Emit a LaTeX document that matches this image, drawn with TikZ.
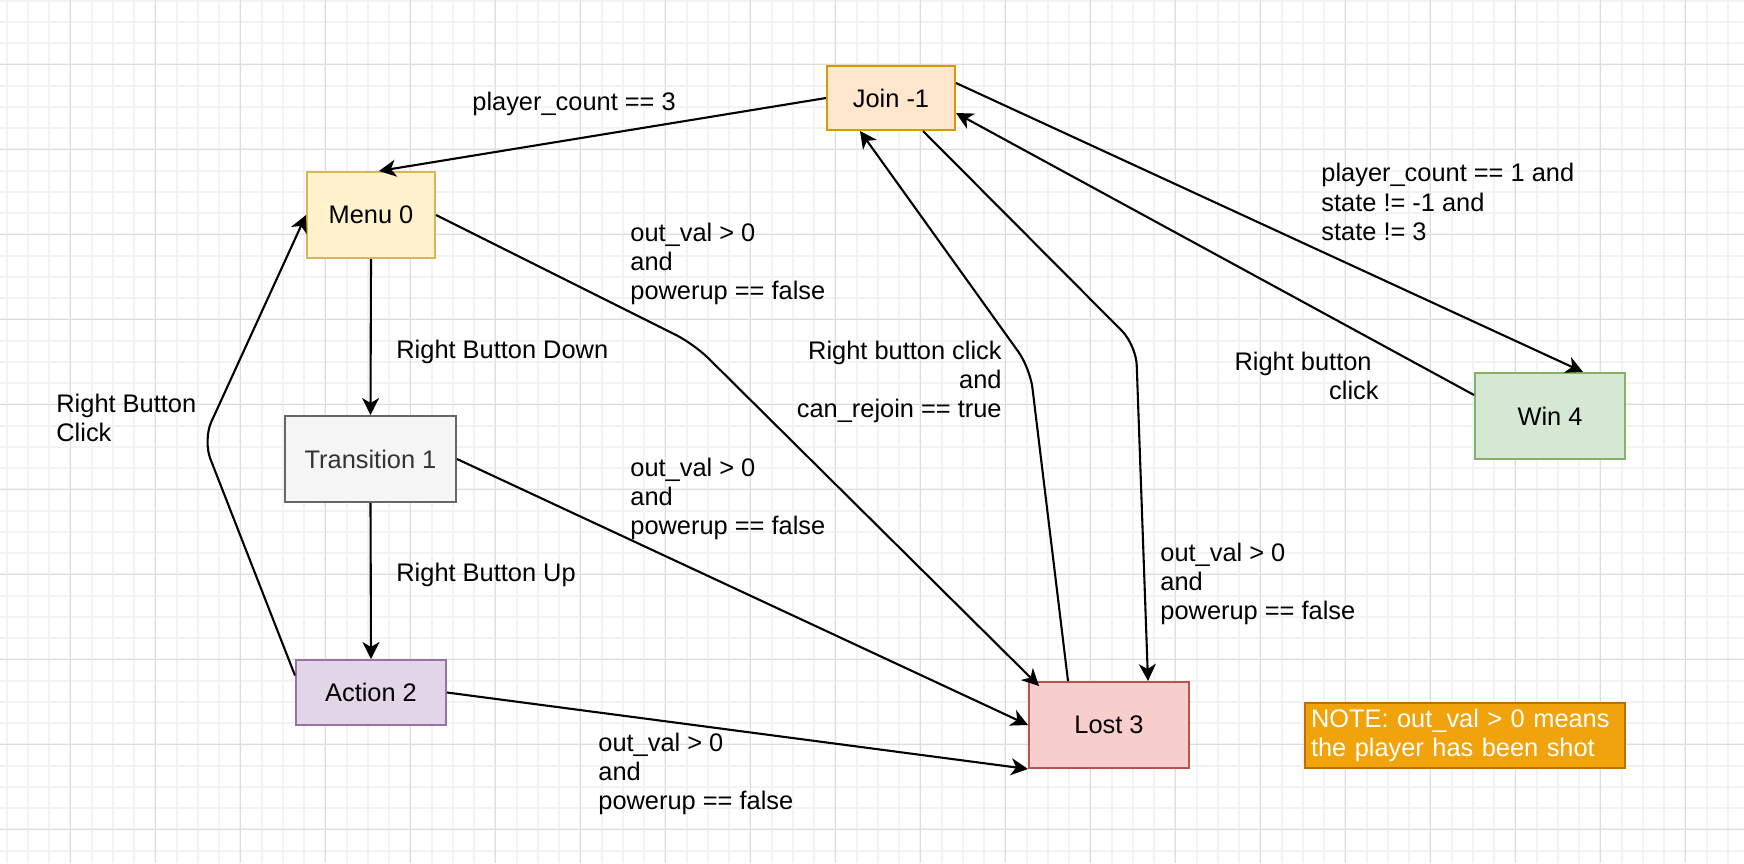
\documentclass[tikz,border=0pt]{standalone}
\usepackage{fontspec}
\setmainfont{Liberation Sans}
\usetikzlibrary{arrows.meta}
\definecolor{gridminor}{HTML}{F3F3F3}
\definecolor{gridmajor}{HTML}{DDDDDD}
\definecolor{joinfill}{HTML}{FFE6CC}\definecolor{joindraw}{HTML}{D79B00}
\definecolor{menufill}{HTML}{FFF2CC}\definecolor{menudraw}{HTML}{D6B656}
\definecolor{transfill}{HTML}{F5F5F5}\definecolor{transdraw}{HTML}{666666}\definecolor{transtext}{HTML}{333333}
\definecolor{actfill}{HTML}{E1D5E7}\definecolor{actdraw}{HTML}{9673A6}
\definecolor{lostfill}{HTML}{F8CECC}\definecolor{lostdraw}{HTML}{B85450}
\definecolor{winfill}{HTML}{D5E8D4}\definecolor{windraw}{HTML}{82B366}
\definecolor{notefill}{HTML}{F0A30A}\definecolor{notedraw}{HTML}{BD7000}
\begin{document}
\begin{tikzpicture}[x=0.5pt,y=-0.5pt,
  every node/.style={font=\fontsize{12.7pt}{14.6pt}\selectfont},
  statebox/.style={draw, line width=1pt, inner sep=0pt},
  lbl/.style={inner sep=0pt, align=left, anchor=west},
  rlbl/.style={inner sep=0pt, align=right, anchor=east},
  edge/.style={draw, line width=1.05pt, -{Stealth[length=8.5pt,width=8.5pt,inset=2.5pt]}},
  bent/.style={edge, rounded corners=10pt}]
\useasboundingbox (0,0) rectangle (1744,863);
\fill[white] (0,0) rectangle (1744,863);
% grid
\foreach \i in {0,...,82}{
  \pgfmathsetmacro\xx{6.55+21.25*\i}
  \draw[gridminor, line width=1pt] (\xx,0) -- (\xx,863);
}
\foreach \j in {0,...,40}{
  \pgfmathsetmacro\yy{0.55+21.25*\j}
  \draw[gridminor, line width=1pt] (0,\yy) -- (1744,\yy);
}
\foreach \i in {0,...,20}{
  \pgfmathsetmacro\xx{70.3+85*\i}
  \draw[gridmajor, line width=0.55pt] (\xx,0) -- (\xx,863);
}
\foreach \j in {0,...,9}{
  \pgfmathsetmacro\yy{64.3+85*\j}
  \draw[gridmajor, line width=0.55pt] (0,\yy) -- (1744,\yy);
}
% states
\node[statebox, fill=joinfill, draw=joindraw, minimum width=64pt, minimum height=32pt] (join) at (891,98) {Join -1};
\node[statebox, fill=menufill, draw=menudraw, minimum width=64pt, minimum height=43pt] (menu) at (371,215) {Menu 0};
\node[statebox, fill=transfill, draw=transdraw, text=transtext, minimum width=85.5pt, minimum height=43pt] (trans) at (370.5,459) {Transition 1};
\node[statebox, fill=actfill, draw=actdraw, minimum width=75pt, minimum height=32.5pt] (action) at (371,692.5) {Action 2};
\node[statebox, fill=lostfill, draw=lostdraw, minimum width=80pt, minimum height=43pt] (lost) at (1109,725) {Lost 3};
\node[statebox, fill=winfill, draw=windraw, minimum width=75pt, minimum height=43pt] (win) at (1550,416) {Win 4};
\node[statebox, fill=notefill, draw=notedraw, text=white, minimum width=160pt, minimum height=32.5pt,
      text width=154pt, inner xsep=3pt, align=left] (note) at (1465,735.5) {NOTE: out\_val > 0 means\\the player has been shot};
% waypoints
\coordinate (wml) at (694,344);
\coordinate (wjl) at (1136,345);
\coordinate (wlj) at (1030,368);
\coordinate (wam) at (203,440);
% edges
\draw[edge] (join.west) -- ([xshift=4pt]menu.north);
\draw[edge] (menu.south) -- (trans.north);
\draw[edge] (trans.south) -- (action.north);
\draw[bent] ([yshift=8.5pt]action.west) -- (wam) -- (menu.west);
\draw[bent] (menu.east) -- (wml) -- ([xshift=5.5pt,yshift=-2.5pt]lost.north west);
\draw[edge] (trans.east) -- (lost.west);
\draw[edge] (action.east) -- (lost.south west);
\draw[bent] ([xshift=16pt]join.south) -- (wjl) -- ([xshift=19.5pt]lost.north);
\draw[bent] ([xshift=-20.5pt]lost.north) -- (wlj) -- ([xshift=-15.5pt]join.south);
\draw[edge] ([yshift=7.5pt]join.east) -- ([xshift=16.5pt]win.north);
\draw[edge] ([yshift=10.5pt]win.west) -- ([yshift=-7.5pt]join.east);
% labels
\node[lbl] (l1) at (472,104) {player\_count == 3};
\node[lbl] (l2) at (396,352) {Right Button Down};
\node[lbl] (l3) at (396,575) {Right Button Up};
\node[lbl] (l4) at (56,418) {Right Button\\Click};
\node[lbl] (l5) at (630,264) {out\_val > 0\\and\\powerup == false};
\node[lbl] (l6) at (630,499) {out\_val > 0\\and\\powerup == false};
\node[lbl] (l7) at (598,774) {out\_val > 0\\and\\powerup == false};
\node[lbl] (l8) at (1160,584) {out\_val > 0\\and\\powerup == false};
\node[rlbl] (l9) at (1002,382) {Right button click\\and\\can\_rejoin == true};
\node[lbl] (l10) at (1321,202) {player\_count == 1 and\\state != -1 and\\state != 3};
\node[rlbl] (l11) at (1379,376) {Right button\hspace*{3.5pt}\\click};
\end{tikzpicture}
\end{document}
